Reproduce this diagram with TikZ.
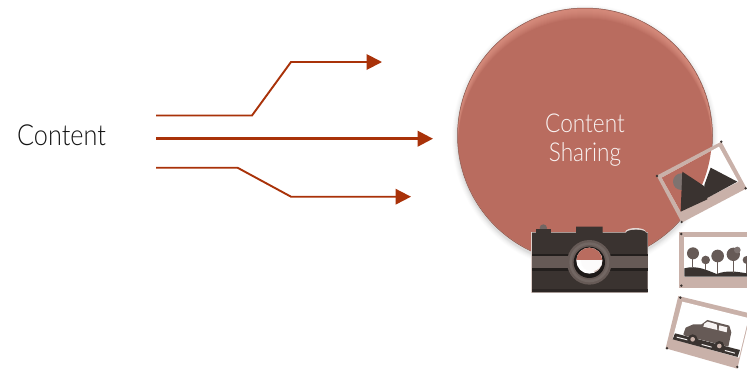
\documentclass[tikz,border=0pt]{standalone}
\usepackage{fontspec}
\setmainfont[FakeStretch=0.87]{Lato Light}
\usetikzlibrary{arrows.meta}
\definecolor{arrowred}{HTML}{A93209}
\definecolor{disc}{HTML}{B96C5F}
\definecolor{discedge}{HTML}{8A5A50}
\definecolor{rim}{HTML}{EDA594}
\definecolor{frame}{HTML}{C9B1A9}
\definecolor{ink}{HTML}{3A3330}
\definecolor{midgrey}{HTML}{665A56}
\definecolor{softgrey}{HTML}{7E7370}
\tikzset{
  flow/.style={draw=arrowred,line width=1.9pt,-{Triangle[length=15.5pt,width=15.5pt]}},
  flowthick/.style={flow,line width=2.6pt},
  label/.style={inner sep=0,align=center},
  icon/.style={shift={(520,130)},x=0.3333pt,y=-0.3333pt},
  pin/.style={fill=ink},
  photo/.style={fill=frame},
  hole/.style={fill=white},
  solid ink/.style={fill=ink}
}
\begin{document}
\begin{tikzpicture}[x=1pt,y=-1pt,line join=miter]
\useasboundingbox (0,0) rectangle (747,370);
\fill[white] (0,0) rectangle (747,370);
% disc shadow
\foreach \r/\o in {133/.012,132/.015,131/.02,130/.025,129/.03,128/.04}{
  \fill[black,opacity=\o] (585,138) circle[radius=\r];
}
\node[circle,minimum size=255pt,inner sep=0,fill=disc,draw=discedge,line width=.5pt] (disc) at (585,135.5) {};
\begin{scope}
  \clip (585,135.5) circle[radius=127];
  \foreach \d in {2,3,...,10}{
    \fill[even odd rule,fill=rim,opacity=.085] (585,135.5) circle[radius=127] (585,135.5+\d) circle[radius=127];
  }
\end{scope}
\node[label,text=white!92!disc,font=\fontsize{26}{29}\selectfont] (sharing) at (585,140) {Content\\Sharing};
\node[label,text=black!92,font=\fontsize{29}{30}\selectfont] (content) at (61.5,135) {Content};
% connectors
\coordinate (a1) at (156,115.5); \coordinate (a2) at (252,115.5); \coordinate (a3) at (291,62); \coordinate (a4) at (382,62);
\coordinate (b1) at (156,138.7); \coordinate (b2) at (433,138.7);
\coordinate (c1) at (156,167.7); \coordinate (c2) at (237.5,167.7); \coordinate (c3) at (291,196.7); \coordinate (c4) at (411,196.7);
\draw[flow] (a1) -- (a2) -- (a3) -- (a4);
\draw[flowthick] (b1) -- (b2);
\draw[flow] (c1) -- (c2) -- (c3) -- (c4);
% camera
\begin{scope}[icon]
  \fill[frame!60!white] (34,306) rectangle (384,490);
  \fill[softgrey!80!ink] (70,294) circle[radius=11];
  \fill[ink] (48,308) -- (48,296) -- (92,296) -- (92,308) -- cycle;
  \fill[frame!50!white] (316,306) arc[start angle=180,end angle=360,x radius=31,y radius=12] -- cycle;
  \fill[solid ink] (36,308) -- (168,308) -- (168,290) -- (248,290) -- (248,308) -- (318,308) arc[start angle=180,end angle=360,x radius=30,y radius=9] -- (383,308) -- (383,487) -- (36,487) -- cycle;
  \fill[black!40!ink] (36,372) rectangle (383,378);
  \fill[black!40!ink] (36,415) rectangle (383,423);
  \fill[midgrey] (36,378) rectangle (383,415);
  \fill[black!25!ink] (36,476) rectangle (383,487);
  \fill[midgrey] (208,397) circle[radius=67];
  \fill[softgrey!50!midgrey] (208,397) circle[radius=60];
  \fill[midgrey] (208,397) circle[radius=52];
  \fill[black!50!ink] (208,397) circle[radius=47];
  \fill[white] (208,392) circle[radius=39];
  \begin{scope}
    \clip (208,392) circle[radius=39];
    \fill[frame] (235,395) circle[radius=32];
    \fill[white!95!frame] (215,392) circle[radius=32];
    \fill[disc] (165,350) rectangle (250,390);
  \end{scope}
\end{scope}
% photo 1
\begin{scope}[icon]
  \fill[photo] (604,35) -- (680,175) -- (485,278) -- (410,137) -- cycle;
  \fill[hole] (597,50) -- (655,155) -- (482,245) -- (425,143) -- cycle;
  \begin{scope}
    \clip (597,50) -- (655,155) -- (482,245) -- (425,143) -- cycle;
    \fill[disc] (195,16.5) circle[radius=381];
  \end{scope}
  \fill[softgrey] (484,155) circle[radius=25];
  \fill[solid ink] (487,125) -- (558,172) -- (562,208) -- (482,245) -- cycle;
  \fill[solid ink] (572,113) -- (652,155) -- (560,205) -- (553,165) -- cycle;
  \foreach \p in {(604,35),(677,175),(485,276),(411,138)}{\fill[pin] \p circle[radius=4];}
\end{scope}
% photo 2
\begin{scope}[icon]
  \fill[photo] (478,307) rectangle (681,473);
  \fill[hole] (493,320) rectangle (681,440);
  \fill[solid ink] (493,440) -- (493,415) .. controls (530,405) and (560,420) .. (590,432) .. controls (620,420) and (650,425) .. (681,430) -- (681,440) -- cycle;
  \foreach \cx/\cy/\rr/\base in {519/370/18/412,557/390/13/420,593/378/19/432,640/373/20/428,680/390/12/428}{
    \fill[midgrey] (\cx-1.5,\cy) rectangle (\cx+1.5,\base);
    \fill[midgrey] (\cx,\cy) circle[radius=\rr];
  }
  \fill[softgrey] (652,360) circle[radius=10];
  \foreach \p in {(484,312),(484,467)}{\fill[pin] \p circle[radius=4];}
\end{scope}
% photo 3
\begin{scope}[icon]
  \fill[photo] (475,498) -- (681,548) -- (681,596) -- (652,716) -- (437,655) -- cycle;
  \fill[hole] (487,515) -- (681,563) -- (681,584) -- (657,683) -- (458,627) -- cycle;
  \fill[solid ink] (465,610) -- (660,660) -- (653,681) -- (458,628) -- cycle;
  \fill[white!85!frame] (470,620) -- (502,628) -- (502,631) -- (470,623) -- cycle;
  \fill[white!85!frame] (545,642) -- (575,650) -- (575,653) -- (545,645) -- cycle;
  \fill[white!85!frame] (615,660) -- (645,668) -- (645,671) -- (615,663) -- cycle;
  \fill[midgrey] (490,613) -- (497,593) -- (520,583) -- (545,583) -- (562,570) -- (628,587) -- (634,607) -- (625,650) -- (495,617) -- cycle;
  \fill[white!85!frame] (553,581) -- (563,575) -- (590,583) -- (592,600) -- (550,590) -- cycle;
  \fill[white!85!frame] (598,586) -- (622,592) -- (620,607) -- (596,601) -- cycle;
  \fill[solid ink] (518,628) circle[radius=15];
  \fill[solid ink] (598,648) circle[radius=15];
  \fill[frame] (518,628) circle[radius=7];
  \fill[frame] (598,648) circle[radius=7];
  \foreach \p in {(481,503),(441,655),(652,711)}{\fill[pin] \p circle[radius=4];}
\end{scope}
\end{tikzpicture}
\end{document}
